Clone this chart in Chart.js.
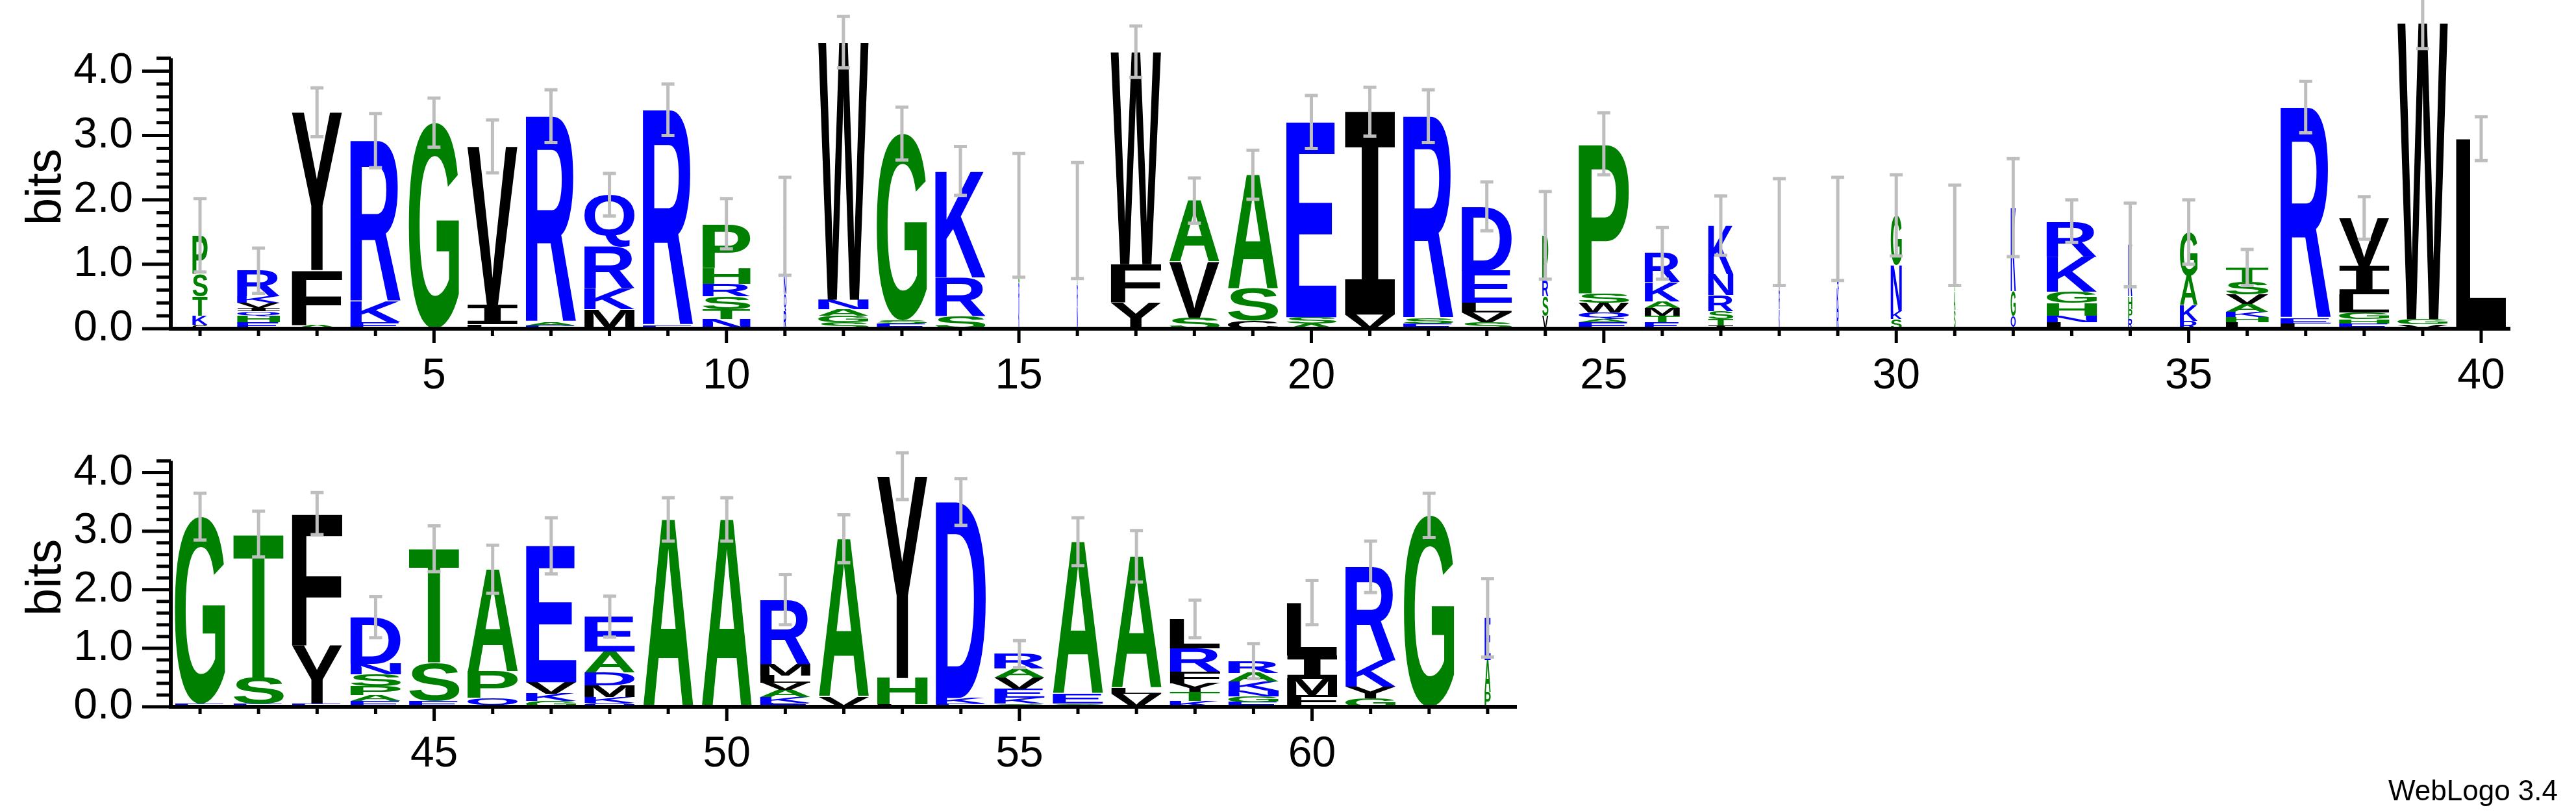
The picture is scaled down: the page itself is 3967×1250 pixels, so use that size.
<!DOCTYPE html>
<html><head><meta charset="utf-8">
<script src="https://cdn.jsdelivr.net/npm/chart.js@4.4.0/dist/chart.umd.min.js"></script>
<style>
html,body{margin:0;padding:0;background:#fff;width:3967px;height:1250px;overflow:hidden}
canvas{position:absolute;left:0}
#c1{top:0}#c2{top:620px}
#wl{position:absolute;right:28px;top:1192px;font:44px "Liberation Sans",Arial,sans-serif;color:#000}
</style></head><body>
<canvas id="c1" width="3967" height="620"></canvas>
<canvas id="c2" width="3967" height="630"></canvas>
<div id="wl">WebLogo 3.4</div>
<script>
// ---- data: letters listed bottom to top, heights in bits ----
const positionsTop = Array.from({length:40},(_,i)=>i+1);
const positionsBottom = Array.from({length:23},(_,i)=>i+41);
const lettersTop = ["CKTSP","EHQIVKR","AFY","EKR","G","LIV","EAR","MKRQ","ER","NTSRHP",
 "RQNHSV","SGANW","ESG","SRK","KRSAV","NRTLV","YFW","SVA","CSA","ASE",
 "VI","ESR","SVLED","VSRP","EAQWSP","ETMAKR","ITSRNK","KRVQT","RKQNV","SKNG",
 "SATGN","QGK","LNHGKR","RPHK","RKAG","LHKAVST","LER","EHGLIV","VGW","L"];
const heightsTop = [[0.06,0.14,0.3,0.35,0.6],[0.1,0.1,0.07,0.05,0.08,0.1,0.4],[0.06,0.85,2.45],[0.1,0.32,2.5],[3.2],
 [0.07,0.3,2.46],[0.05,0.05,3.2],[0.3,0.33,0.65,0.8],[0.05,3.35],[0.15,0.15,0.2,0.2,0.25,0.68],
 [0.27,0.27,0.27,0.27,0.26,0.25],[0.1,0.1,0.1,0.15,4.0],[0.08,0.05,2.9],[0.2,0.6,1.65],[0.35,0.35,0.35,0.35,0.36],
 [0.34,0.34,0.34,0.33,0.33],[0.4,0.6,3.3],[0.17,0.87,0.95],[0.12,0.5,1.77],[0.08,0.1,3.03],
 [0.22,3.15],[0.08,0.08,3.14],[0.1,0.15,0.15,0.5,1.0],[0.2,0.3,0.25,0.7],[0.1,0.05,0.1,0.15,0.15,2.32],
 [0.1,0.1,0.12,0.1,0.3,0.45],[0.05,0.1,0.12,0.25,0.33,0.75],[0.3,0.3,0.3,0.3,0.3],[0.31,0.31,0.31,0.31,0.31],[0.15,0.12,0.72,0.77],
 [0.29,0.29,0.29,0.29,0.29],[0.2,0.38,1.3],[0.1,0.1,0.2,0.17,0.55,0.55],[0.15,0.15,0.2,0.8],[0.12,0.25,0.45,0.68],
 [0.1,0.08,0.08,0.12,0.15,0.2,0.22],[0.08,0.08,3.28],[0.08,0.07,0.1,0.28,0.45,0.74],[0.07,0.08,4.6],[2.95]];
const errorsTop = [0.57,0.35,0.38,0.42,0.38,0.41,0.41,0.33,0.4,0.39,0.76,0.4,0.41,0.38,0.96,0.9,0.4,0.35,0.38,0.41,
 0.38,0.41,0.38,0.68,0.48,0.4,0.46,0.83,0.8,0.63,0.78,0.76,0.33,0.65,0.5,0.28,0.4,0.33,0.4,0.34];
const widthsTop = [0.3,0.85,1,1,1,1,1,1,1,0.95,0.05,1,1,1,0.02,0.02,1,1,1,1,
 1,1,1,0.12,1,0.7,0.5,0.02,0.04,0.22,0.03,0.1,1,0.08,0.35,0.85,1,1,1,1];

const lettersBottom = ["EG","EST","EYF","EAPSND","EST","QPA","GKVE","QKMDAE","A","A",
 "EKAVLMR","VA","LHY","EKD","GKEVAR","GEA","VLA","KTYFRL","EGNKAR","FMIL","GYKR","G","PAE"];
const heightsBottom = [[0.05,3.2],[0.05,0.45,2.45],[0.05,1.0,2.25],[0.1,0.1,0.15,0.2,0.18,0.8],[0.1,0.65,1.95],
 [0.15,0.45,1.75],[0.1,0.12,0.2,2.33],[0.07,0.1,0.2,0.22,0.35,0.6],[3.2],[3.2],
 [0.07,0.1,0.12,0.12,0.12,0.2,1.1],[0.17,2.7],[0.04,0.45,3.45],[0.05,0.1,3.35],[0.05,0.1,0.15,0.2,0.15,0.25],
 [0.05,0.17,2.6],[0.22,0.1,2.25],[0.1,0.15,0.15,0.2,0.4,0.5],[0.08,0.1,0.1,0.15,0.15,0.2],[0.2,0.28,0.4,0.9],
 [0.14,0.2,0.45,1.6],[3.27],[0.25,0.55,0.72]];
const errorsBottom = [0.4,0.39,0.36,0.35,0.39,0.41,0.48,0.35,0.37,0.37,0.43,0.41,0.4,0.4,0.23,0.41,0.44,0.32,0.3,0.38,0.44,0.38,0.67];
const widthsBottom = [1,1,1,1,1,1,1,1,1,1,1,1,1,1,1,1,1,1,1,1,1,1,0.12];

const yTickLabels = ["0.0","1.0","2.0","3.0","4.0"];
const colorGroups = {green:"GSTAPH", blue:"RKDENQ", black:"CFYWVILM"};
const colorValues = {green:"#008000", blue:"#0000ff", black:"#000000"};

function colorOf(ch){for(const k in colorGroups) if(colorGroups[k].includes(ch)) return colorValues[k]; return "#000";}
const FONT = '"Liberation Sans", Arial, sans-serif';
const MONO = '"DejaVu Sans Mono", monospace';

function logoPlugin(letters, heights, errors, widths, positions){
  return {id:'logo', afterDraw(chart){
    const ctx = chart.ctx, xs = chart.scales.x, ys = chart.scales.y, ca = chart.chartArea;
    const unit = xs.getPixelForValue(2)-xs.getPixelForValue(1);
    ctx.save();
    positions.forEach((p,i)=>{
      const cx = xs.getPixelForValue(p);
      const w = unit*0.86*widths[i];
      let base = 0;
      letters[i].split('').forEach((ch,j)=>{
        const h = heights[i][j];
        const yb = ys.getPixelForValue(base), yt = ys.getPixelForValue(base+h);
        base += h;
        const ph = yb-yt; if(ph<0.5) return;
        ctx.save();
        ctx.font = 'bold 200px '+(ch==='I'?MONO:FONT);
        const m = ctx.measureText(ch);
        const gw = m.actualBoundingBoxLeft+m.actualBoundingBoxRight;
        const gh = m.actualBoundingBoxAscent+m.actualBoundingBoxDescent;
        ctx.translate(cx-w/2, yt);
        ctx.scale(w/gw, ph/gh);
        ctx.fillStyle = colorOf(ch);
        ctx.textBaseline='alphabetic';
        ctx.fillText(ch, m.actualBoundingBoxLeft, m.actualBoundingBoxAscent);
        ctx.restore();
      });
      const tot = heights[i].reduce((a,b)=>a+b,0);
      const e = errors[i];
      const yA = ys.getPixelForValue(tot+e), yB = ys.getPixelForValue(Math.max(0,tot-e));
      ctx.strokeStyle='#bebebe'; ctx.lineWidth=5;
      ctx.beginPath(); ctx.moveTo(cx,yA); ctx.lineTo(cx,yB);
      ctx.moveTo(cx-10,yA); ctx.lineTo(cx+10,yA);
      ctx.moveTo(cx-10,yB); ctx.lineTo(cx+10,yB); ctx.stroke();
    });
    ctx.strokeStyle='#000'; ctx.lineWidth=6;
    ctx.beginPath(); ctx.moveTo(ca.left-3, ca.bottom); ctx.lineTo(ca.right, ca.bottom); ctx.stroke();
    ctx.beginPath(); ctx.moveTo(ca.left, ca.top); ctx.lineTo(ca.left, ca.bottom); ctx.stroke();
    ctx.lineWidth=5;
    for(let k=0;k<=21;k++){
      const v=k*0.2, y=ys.getPixelForValue(v);
      const major = k%5===0;
      ctx.beginPath(); ctx.moveTo(ca.left-(major?44:22), y); ctx.lineTo(ca.left, y); ctx.stroke();
    }
    positions.forEach(p=>{
      const x=xs.getPixelForValue(p), major=p%5===0;
      ctx.beginPath(); ctx.moveTo(x, ca.bottom); ctx.lineTo(x, ca.bottom+(major?22:11)); ctx.stroke();
    });
    ctx.fillStyle='#000'; ctx.font='76px '+FONT; ctx.textAlign='center'; ctx.textBaseline='middle';
    ctx.translate(72,(ca.top+ca.bottom)/2-10); ctx.rotate(-Math.PI/2); ctx.fillText('bits',0,0);
    ctx.restore();
  }};
}

function makeChart(id, positions, letters, heights, errors, widths, xmin, xmax, top, xAxisH, rightPad){
  const totals = heights.map(h=>h.reduce((a,b)=>a+b,0));
  return new Chart(document.getElementById(id), {
    type:'bar',
    data:{datasets:[{data:positions.map((p,i)=>({x:p,y:totals[i]})), backgroundColor:'rgba(0,0,0,0)', borderWidth:0}]},
    options:{
      responsive:false, animation:false, devicePixelRatio:1,
      layout:{padding:{top:top,right:rightPad,left:0,bottom:0}},
      plugins:{legend:{display:false},tooltip:{enabled:false}},
      scales:{
        x:{type:'linear',offset:false,min:xmin,max:xmax,border:{display:false},grid:{display:false,offset:false},
           afterBuildTicks:s=>{s.ticks=positions.filter(p=>p%5===0).map(v=>({value:v}));},
           ticks:{autoSkip:false,maxRotation:0,padding:26,color:'#000',font:{family:FONT,size:66},callback:v=>String(v)},
           afterFit:s=>{s.height=xAxisH;}},
        y:{min:0,max:4.2,border:{display:false},grid:{display:false},
           afterBuildTicks:s=>{s.ticks=yTickLabels.map(t=>({value:parseFloat(t)}));},
           ticks:{padding:50,color:'#000',font:{family:FONT,size:66},callback:v=>yTickLabels[Math.round(v)]},
           afterFit:s=>{s.width=263;}}
      }
    },
    plugins:[logoPlugin(letters,heights,errors,widths,positions)]
  });
}
makeChart('c1', positionsTop, lettersTop, heightsTop, errorsTop, widthsTop, 0.5, 40.5, 51, 114, 101);
makeChart('c2', positionsBottom, lettersBottom, heightsBottom, errorsBottom, widthsBottom, 40.5, 63.5, 27, 162, 1631);
</script></body></html>
